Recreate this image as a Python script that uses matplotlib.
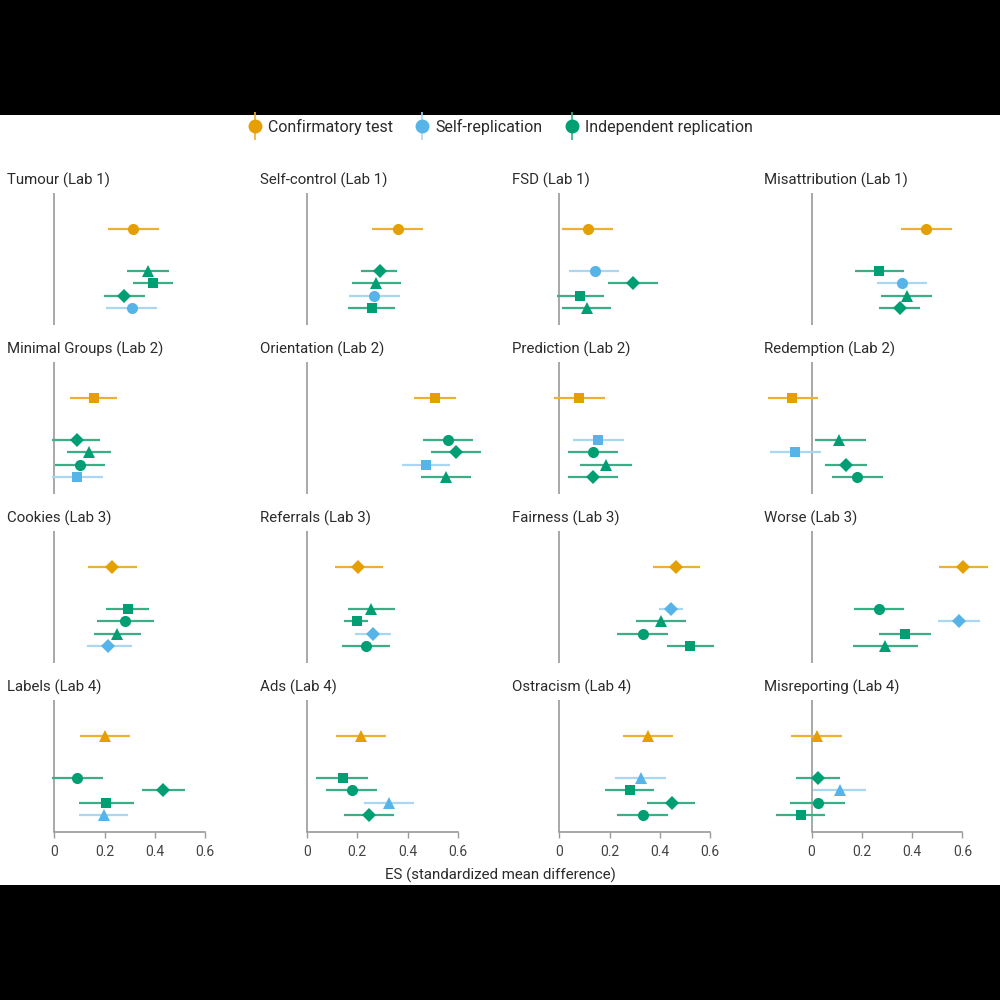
import matplotlib
matplotlib.use("Agg")
import matplotlib.pyplot as plt
from matplotlib.lines import Line2D
from matplotlib.patches import Rectangle

plt.rcParams['font.family'] = ['Roboto', 'DejaVu Sans']

# ---------------- data ----------------
titles = [
    "Tumour (Lab 1)", "Self-control (Lab 1)", "FSD (Lab 1)", "Misattribution (Lab 1)",
    "Minimal Groups (Lab 2)", "Orientation (Lab 2)", "Prediction (Lab 2)", "Redemption (Lab 2)",
    "Cookies (Lab 3)", "Referrals (Lab 3)", "Fairness (Lab 3)", "Worse (Lab 3)",
    "Labels (Lab 4)", "Ads (Lab 4)", "Ostracism (Lab 4)", "Misreporting (Lab 4)",
]

# first entry of each panel = confirmatory test, then four replications (top to bottom)
# C = confirmatory, S = self-replication, I = independent replication
kind = [
    ["C", "I", "I", "I", "S"],
    ["C", "I", "I", "S", "I"],
    ["C", "S", "I", "I", "I"],
    ["C", "I", "S", "I", "I"],
    ["C", "I", "I", "I", "S"],
    ["C", "I", "I", "S", "I"],
    ["C", "S", "I", "I", "I"],
    ["C", "I", "S", "I", "I"],
    ["C", "I", "I", "I", "S"],
    ["C", "I", "I", "S", "I"],
    ["C", "S", "I", "I", "I"],
    ["C", "I", "S", "I", "I"],
    ["C", "I", "I", "I", "S"],
    ["C", "I", "I", "S", "I"],
    ["C", "S", "I", "I", "I"],
    ["C", "I", "S", "I", "I"],
]

est = [
    [0.311, 0.371, 0.391, 0.278, 0.309],
    [0.362, 0.289, 0.273, 0.268, 0.260],
    [0.113, 0.140, 0.295, 0.082, 0.109],
    [0.457, 0.268, 0.361, 0.381, 0.350],
    [0.158, 0.089, 0.138, 0.102, 0.091],
    [0.507, 0.561, 0.594, 0.474, 0.552],
    [0.080, 0.153, 0.135, 0.184, 0.135],
    [-0.076, 0.110, -0.066, 0.136, 0.182],
    [0.231, 0.292, 0.281, 0.251, 0.215],
    [0.203, 0.255, 0.197, 0.261, 0.233],
    [0.464, 0.444, 0.403, 0.332, 0.520],
    [0.603, 0.269, 0.587, 0.371, 0.293],
    [0.203, 0.091, 0.431, 0.205, 0.197],
    [0.215, 0.142, 0.177, 0.326, 0.246],
    [0.354, 0.326, 0.281, 0.447, 0.333],
    [0.020, 0.025, 0.112, 0.025, -0.041],
]

lo = [
    [0.212, 0.289, 0.311, 0.196, 0.206],
    [0.260, 0.216, 0.180, 0.167, 0.163],
    [0.012, 0.040, 0.195, -0.010, 0.012],
    [0.357, 0.172, 0.261, 0.278, 0.270],
    [0.062, -0.008, 0.049, 0.003, -0.008],
    [0.424, 0.461, 0.494, 0.379, 0.455],
    [-0.021, 0.053, 0.036, 0.082, 0.036],
    [-0.173, 0.013, -0.166, 0.053, 0.083],
    [0.135, 0.206, 0.169, 0.159, 0.129],
    [0.110, 0.162, 0.148, 0.190, 0.138],
    [0.371, 0.398, 0.304, 0.231, 0.429],
    [0.507, 0.169, 0.501, 0.269, 0.166],
    [0.103, -0.008, 0.347, 0.098, 0.098],
    [0.115, 0.037, 0.077, 0.226, 0.146],
    [0.254, 0.223, 0.183, 0.350, 0.230],
    [-0.080, -0.061, 0.005, -0.084, -0.141],
]

hi = [
    [0.415, 0.457, 0.473, 0.361, 0.408],
    [0.461, 0.359, 0.375, 0.369, 0.351],
    [0.215, 0.238, 0.391, 0.179, 0.206],
    [0.559, 0.367, 0.460, 0.480, 0.430],
    [0.251, 0.182, 0.225, 0.200, 0.195],
    [0.594, 0.661, 0.693, 0.570, 0.653],
    [0.182, 0.257, 0.235, 0.288, 0.235],
    [0.026, 0.215, 0.036, 0.219, 0.284],
    [0.328, 0.378, 0.396, 0.345, 0.308],
    [0.301, 0.351, 0.242, 0.335, 0.329],
    [0.559, 0.493, 0.503, 0.433, 0.615],
    [0.702, 0.368, 0.669, 0.474, 0.422],
    [0.302, 0.192, 0.519, 0.318, 0.294],
    [0.314, 0.243, 0.277, 0.426, 0.346],
    [0.453, 0.426, 0.377, 0.541, 0.434],
    [0.120, 0.112, 0.215, 0.135, 0.053],
]

# marker shape of each point (style)
shapes = [
    ["o", "^", "s", "D", "o"],
    ["o", "D", "^", "o", "s"],
    ["o", "o", "D", "s", "^"],
    ["o", "s", "o", "^", "D"],
    ["s", "D", "^", "o", "s"],
    ["s", "o", "D", "s", "^"],
    ["s", "s", "o", "^", "D"],
    ["s", "^", "s", "D", "o"],
    ["D", "s", "o", "^", "D"],
    ["D", "^", "s", "D", "o"],
    ["D", "D", "^", "o", "s"],
    ["D", "o", "D", "s", "^"],
    ["^", "o", "D", "s", "^"],
    ["^", "s", "o", "^", "D"],
    ["^", "^", "s", "D", "o"],
    ["^", "D", "^", "o", "s"],
]

legend_labels = ["Confirmatory test", "Self-replication", "Independent replication"]
xticks = [0, 0.2, 0.4, 0.6]
xtick_labels = ["0", "0.2", "0.4", "0.6"]

# ---------------- style ----------------
MARK = {"C": "#E69F00", "S": "#56B4E9", "I": "#009E73"}
LINEC = {"C": "#ECB033", "S": "#A9D7F1", "I": "#3DAD86"}
MSIZE = {"o": 8.0, "s": 7.0, "^": 8.6, "D": 7.4}
GRAYLINE = "#9A9A9A"
TEXT = "#2B2B2B"

ypos = [0, 3.4, 4.4, 5.4, 6.4]

fig = plt.figure(figsize=(10, 10), dpi=100)
fig.patch.set_facecolor("black")
fig.add_artist(Rectangle((0, 0.115), 1, 0.77, transform=fig.transFigure,
                         facecolor="white", edgecolor="none", zorder=-10))

zero_px = [54.3, 307.0, 559.3, 811.5]
scale = 251.5  # px per unit
XMIN, XMAX = -0.2, 0.75

for i in range(16):
    r, c = divmod(i, 4)
    top = 193 + 169 * r
    left = zero_px[c] + XMIN * scale
    width = (XMAX - XMIN) * scale
    ax = fig.add_axes([left / 1000, 1 - (top + 132) / 1000, width / 1000, 132 / 1000])
    ax.set_facecolor("none")
    ax.set_xlim(XMIN, XMAX)
    ax.set_ylim(7.78, -2.93)
    ax.axvline(0, color=GRAYLINE, lw=1.2, zorder=1)

    for j in range(5):
        k = kind[i][j]
        ax.plot([lo[i][j], hi[i][j]], [ypos[j], ypos[j]], color=LINEC[k], lw=1.6,
                solid_capstyle="butt", zorder=2)
        m = shapes[i][j]
        ax.plot(est[i][j], ypos[j], marker=m, markersize=MSIZE[m], color=MARK[k],
                markeredgewidth=0, linestyle="none", zorder=3)

    for s in ["top", "right", "left"]:
        ax.spines[s].set_visible(False)
    ax.set_yticks([])
    if r == 3:
        ax.spines["bottom"].set_bounds(0, 0.6)
        ax.spines["bottom"].set_color(GRAYLINE)
        ax.spines["bottom"].set_linewidth(1.2)
        ax.set_xticks(xticks)
        ax.set_xticklabels(xtick_labels)
        ax.tick_params(axis="x", colors=GRAYLINE, labelcolor="#444444", length=4,
                       width=1.0, labelsize=10, pad=5)
    else:
        ax.spines["bottom"].set_visible(False)
        ax.set_xticks([])

    fig.text((zero_px[c] - 47) / 1000, 1 - (top - 13) / 1000, titles[i],
             ha="left", va="center", fontsize=10.8, color=TEXT)

fig.text(0.5, 1 - 875 / 1000, "ES (standardized mean difference)", ha="center",
         va="center", fontsize=10.8, color=TEXT)

handles = []
for k in ["C", "S", "I"]:
    vline = Line2D([], [], marker="|", markersize=20, markeredgewidth=1.2,
                   color=LINEC[k], linestyle="none")
    dot = Line2D([], [], marker="o", markersize=9, color=MARK[k], linestyle="none")
    handles.append((vline, dot))

fig.legend(handles, legend_labels, loc="center", bbox_to_anchor=(0.5, 1 - 127 / 1000),
           ncol=3, frameon=False, fontsize=11.5, handletextpad=0.35, columnspacing=1.3,
           handlelength=1.0, labelcolor=TEXT)

fig.savefig("out.png", dpi=100, facecolor=fig.get_facecolor())
